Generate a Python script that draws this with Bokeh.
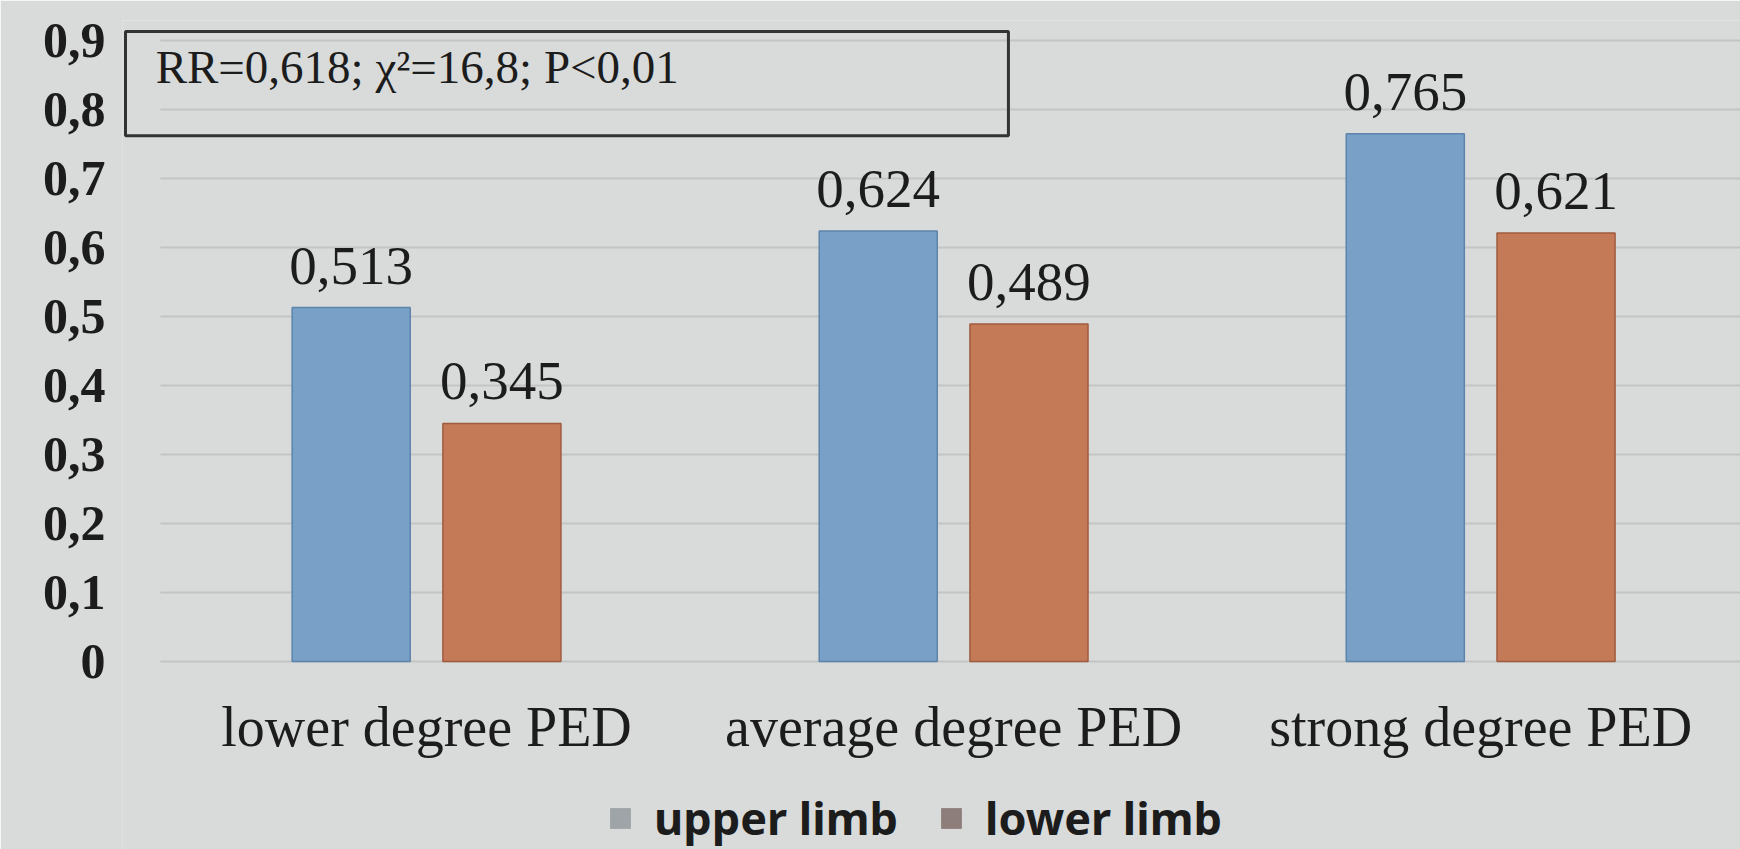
from bokeh.plotting import figure
from bokeh.models import (ColumnDataSource, Range1d, FixedTicker, CustomJSTickFormatter,
                          BoxAnnotation, Label, Legend, LegendItem)
from bokeh.transform import dodge
from bokeh.core.properties import value
from bokeh.embed import file_html
from bokeh.resources import INLINE

# ---- data ----
categories = ["lower degree PED", "average degree PED", "strong degree PED"]
series_names = ["upper limb", "lower limb"]
upper_limb = [0.513, 0.624, 0.765]
lower_limb = [0.345, 0.489, 0.621]
y_ticks = [0, 0.1, 0.2, 0.3, 0.4, 0.5, 0.6, 0.7, 0.8, 0.9]
stats_text = "RR=0,618; χ²=16,8; P<0,01"


def comma(v):
    return f"{v:.3f}".replace(".", ",")


x_pos = [i + 0.5 for i in range(len(categories))]
source = ColumnDataSource(dict(
    x=x_pos,
    upper=upper_limb,
    lower=lower_limb,
    upper_txt=[comma(v) for v in upper_limb],
    lower_txt=[comma(v) for v in lower_limb],
))
cat_source = ColumnDataSource(dict(x=x_pos, y=[0] * len(x_pos), name=categories))

# ---- style ----
BG = "#d8dbda"
GRID = "#c2c5c4"
BLUE, BLUE_EDGE = "#79a0c6", "#5d84aa"
ORANGE, ORANGE_EDGE = "#c47a57", "#a05b3f"
SWATCH_UPPER, SWATCH_LOWER = "#9ea4a8", "#8d7d7b"
TEXT = "#1c1c1c"
SERIF = "Liberation Serif"
BAR_W = 0.224
OFFSET = 0.143

# the plot area runs down to the bottom edge; category names and the
# legend sit below the zero line inside it
p = figure(width=1740, height=849,
           x_range=Range1d(-0.0769, 2.993), y_range=Range1d(-0.2725, 0.929),
           output_backend="svg", toolbar_location=None,
           min_border_left=122, min_border_right=0,
           min_border_top=20, min_border_bottom=0)
p.background_fill_color = BG
p.border_fill_color = BG
p.outline_line_color = None

p.xgrid.visible = False
p.ygrid.grid_line_color = GRID
p.ygrid.grid_line_width = 2

# keep the gridlines clear of the tick labels on the left
p.add_layout(BoxAnnotation(right=-0.005, fill_color=BG, fill_alpha=1,
                           line_color=None, level="underlay"))

# y axis: decimal comma labels, no line or ticks
p.yaxis.ticker = FixedTicker(ticks=y_ticks)
p.yaxis.formatter = CustomJSTickFormatter(
    code="return tick === 0 ? '0' : tick.toFixed(1).replace('.', ',');")
p.yaxis.axis_line_color = None
p.yaxis.major_tick_line_color = None
p.yaxis.minor_tick_line_color = None
p.yaxis.major_label_standoff = 11
p.yaxis.major_label_text_font = SERIF
p.yaxis.major_label_text_font_style = "bold"
p.yaxis.major_label_text_font_size = "50px"
p.yaxis.major_label_text_color = TEXT

p.xaxis.visible = False

# category names under each group
p.text(x="x", y="y", text="name", source=cat_source, y_offset=66,
       text_align="center", text_baseline="middle",
       text_font=value(SERIF), text_font_size="56px", text_color=TEXT)

# bars
p.vbar(x=dodge("x", -OFFSET), top="upper", width=BAR_W, source=source,
       fill_color=BLUE, line_color=BLUE_EDGE, line_width=1.5)
p.vbar(x=dodge("x", OFFSET), top="lower", width=BAR_W, source=source,
       fill_color=ORANGE, line_color=ORANGE_EDGE, line_width=1.5)

# value labels above bars
for col, off in (("upper", -OFFSET), ("lower", OFFSET)):
    p.text(x=dodge("x", off), y=col, text=f"{col}_txt", source=source,
           text_align="center", text_baseline="alphabetic", y_offset=-42,
           text_font=value(SERIF), text_font_size="55px", text_color=TEXT)

# statistics box
p.add_layout(BoxAnnotation(left=-0.0712, right=1.604, bottom=0.762, top=0.913,
                           fill_alpha=0, line_color="#333333", line_alpha=1,
                           line_width=3))
p.add_layout(Label(x=-0.014, y=0.861, text=stats_text, text_baseline="middle",
                   text_font=SERIF, text_font_size="47px", text_color=TEXT))

# legend: the swatches are printed grey, so they come from hidden copies
# of the series drawn in the swatch colours
sw_upper = p.vbar(x=dodge("x", -OFFSET), top="upper", width=BAR_W, source=source,
                  fill_color=SWATCH_UPPER, line_color=None, visible=False)
sw_lower = p.vbar(x=dodge("x", OFFSET), top="lower", width=BAR_W, source=source,
                  fill_color=SWATCH_LOWER, line_color=None, visible=False)
legend = Legend(
    items=[LegendItem(label=series_names[0], renderers=[sw_upper]),
           LegendItem(label=series_names[1], renderers=[sw_lower])],
    orientation="horizontal", location=(485, 1),
    glyph_width=26, glyph_height=26, label_standoff=21, spacing=40,
    padding=0, margin=0, border_line_color=None, background_fill_alpha=0,
    label_text_font="Noto Sans", label_text_font_style="bold",
    label_text_font_size="45px", label_text_color=TEXT)
p.add_layout(legend)

open("out.html", "w").write(file_html(p, INLINE))
